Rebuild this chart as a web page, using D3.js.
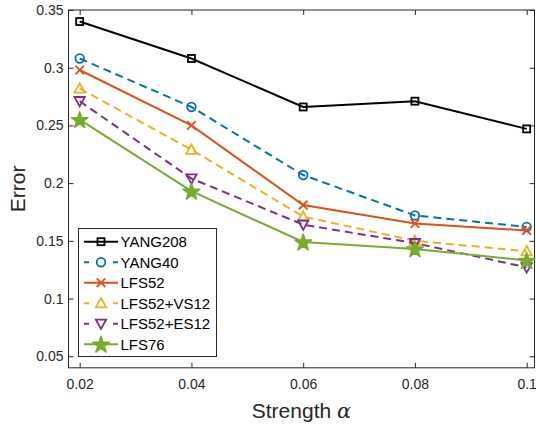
<!DOCTYPE html>
<html><head><meta charset="utf-8">
<script src="https://cdn.jsdelivr.net/npm/d3@7"></script>
<style>body{margin:0;background:#fff}svg{display:block}text{font-family:"Liberation Sans",Arial,sans-serif}</style>
</head><body><svg id="c" width="536" height="426"></svg>
<script>
const strengths = [0.02, 0.04, 0.06, 0.08, 0.1];
const yang208 = [0.340, 0.308, 0.266, 0.271, 0.247];
const yang40 = [0.308, 0.266, 0.207, 0.172, 0.162];
const lfs52 = [0.298, 0.250, 0.181, 0.165, 0.159];
const lfs52vs12 = [0.282, 0.229, 0.171, 0.150, 0.141];
const lfs52es12 = [0.271, 0.204, 0.164, 0.148, 0.127];
const lfs76 = [0.255, 0.193, 0.149, 0.143, 0.133];
const xTicks = [0.02, 0.04, 0.06, 0.08, 0.1];
const xTickLabels = ["0.02", "0.04", "0.06", "0.08", "0.1"];
const yTicks = [0.05, 0.1, 0.15, 0.2, 0.25, 0.3, 0.35];
const yTickLabels = ["0.05", "0.1", "0.15", "0.2", "0.25", "0.3", "0.35"];
const seriesNames = ["YANG208", "YANG40", "LFS52", "LFS52+VS12", "LFS52+ES12", "LFS76"];

const series = [
  {name: seriesNames[0], values: yang208, color: "#000000", dash: null, marker: "square"},
  {name: seriesNames[1], values: yang40, color: "#0072BD", dash: "8,5", marker: "circle"},
  {name: seriesNames[2], values: lfs52, color: "#D95319", dash: null, marker: "x"},
  {name: seriesNames[3], values: lfs52vs12, color: "#EDB120", dash: "8,5", marker: "tri"},
  {name: seriesNames[4], values: lfs52es12, color: "#7E2F8E", dash: "8,5", marker: "tridown"},
  {name: seriesNames[5], values: lfs76, color: "#77AC30", dash: null, marker: "star"}
];

const svg = d3.select("#c");
const L = 68.5, R = 534.5, T = 10, B = 367.8;
const x = d3.scaleLinear().domain([0.018, 0.1014]).range([L, R]);
const y = d3.scaleLinear().domain([0.04, 0.35]).range([B, T]);
const axisColor = "#262626";

svg.append("rect").attr("x", L).attr("y", T).attr("width", R - L).attr("height", B - T)
  .attr("fill", "none").attr("stroke", axisColor).attr("stroke-width", 1);

const tl = 5;
const gx = svg.append("g").attr("transform", `translate(0,${B})`)
  .call(d3.axisBottom(x).tickValues(xTicks).tickFormat((d, i) => xTickLabels[i]).tickSizeInner(-tl).tickSizeOuter(0).tickPadding(11));
const gxt = svg.append("g").attr("transform", `translate(0,${T})`)
  .call(d3.axisTop(x).tickValues(xTicks).tickFormat("").tickSizeInner(-tl).tickSizeOuter(0));
const gy = svg.append("g").attr("transform", `translate(${L},0)`)
  .call(d3.axisLeft(y).tickValues(yTicks).tickFormat((d, i) => yTickLabels[i]).tickSizeInner(-tl).tickSizeOuter(0).tickPadding(5));
const gyr = svg.append("g").attr("transform", `translate(${R},0)`)
  .call(d3.axisRight(y).tickValues(yTicks).tickFormat("").tickSizeInner(-tl).tickSizeOuter(0));
[gx, gxt, gy, gyr].forEach(g => {
  g.select(".domain").remove();
  g.selectAll("line").attr("stroke", axisColor);
  g.selectAll("text").attr("fill", axisColor).style("font-size", "14px").style("font-family", '"Liberation Sans",Arial,sans-serif');
});

const xl = svg.append("text").attr("x", (L + R) / 2).attr("y", 417.5).attr("text-anchor", "middle")
  .attr("fill", axisColor).style("font-size", "21px");
xl.append("tspan").text("Strength ");
xl.append("tspan").text("α").style("font-family", '"DejaVu Serif",serif').style("font-style", "italic");
svg.append("text").attr("transform", `translate(25,${(T + B) / 2}) rotate(-90)`).attr("text-anchor", "middle")
  .attr("fill", axisColor).style("font-size", "21px").text("Error");

function drawMarker(g, type, cx, cy, color) {
  const sw = 1.8;
  if (type === "square") {
    g.append("rect").attr("x", cx - 3.5).attr("y", cy - 3.5).attr("width", 7).attr("height", 7)
      .attr("fill", "none").attr("stroke", color).attr("stroke-width", sw);
  } else if (type === "circle") {
    g.append("circle").attr("cx", cx).attr("cy", cy).attr("r", 4.3)
      .attr("fill", "none").attr("stroke", color).attr("stroke-width", sw);
  } else if (type === "x") {
    const s = 4.3;
    g.append("path").attr("d", `M${cx - s},${cy - s}L${cx + s},${cy + s}M${cx - s},${cy + s}L${cx + s},${cy - s}`)
      .attr("stroke", color).attr("stroke-width", sw).attr("fill", "none");
  } else if (type === "tri") {
    const s = 5.2;
    g.append("path").attr("d", `M${cx},${cy - s}L${cx + s},${cy + s * 0.8}L${cx - s},${cy + s * 0.8}Z`)
      .attr("stroke", color).attr("stroke-width", sw).attr("fill", "none");
  } else if (type === "tridown") {
    const s = 5.2;
    g.append("path").attr("d", `M${cx},${cy + s}L${cx + s},${cy - s * 0.8}L${cx - s},${cy - s * 0.8}Z`)
      .attr("stroke", color).attr("stroke-width", sw).attr("fill", "none");
  } else if (type === "star") {
    const sym = d3.symbol().type(d3.symbolStar).size(85);
    g.append("path").attr("d", sym()).attr("transform", `translate(${cx},${cy + 0.8})`)
      .attr("fill", color).attr("stroke", color).attr("stroke-width", 1.5).attr("stroke-linejoin", "round");
  }
}

const line = d3.line().x((d, i) => x(strengths[i])).y(d => y(d));
const plot = svg.append("g");
series.forEach(s => {
  plot.append("path").attr("d", line(s.values)).attr("fill", "none").attr("stroke", s.color)
    .attr("stroke-width", 2).attr("stroke-dasharray", s.dash);
  const mg = plot.append("g");
  s.values.forEach((v, i) => drawMarker(mg, s.marker, x(strengths[i]), y(v), s.color));
});

const lg = svg.append("g");
const lx = 78.5, ly = 228.5, lw = 138, lh = 128;
lg.append("rect").attr("x", lx).attr("y", ly).attr("width", lw).attr("height", lh)
  .attr("fill", "#fff").attr("stroke", axisColor).attr("stroke-width", 1);
series.forEach((s, i) => {
  const cy = 241.7 + i * 20.5;
  lg.append("line").attr("x1", 84).attr("x2", 118).attr("y1", cy).attr("y2", cy)
    .attr("stroke", s.color).attr("stroke-width", 2).attr("stroke-dasharray", s.dash ? "5,24,5" : null);
  drawMarker(lg, s.marker, 101, cy, s.color);
  lg.append("text").attr("x", 120.5).attr("y", cy + 5.3).attr("fill", "#000").style("font-size", "15px").text(s.name);
});
</script></body></html>
